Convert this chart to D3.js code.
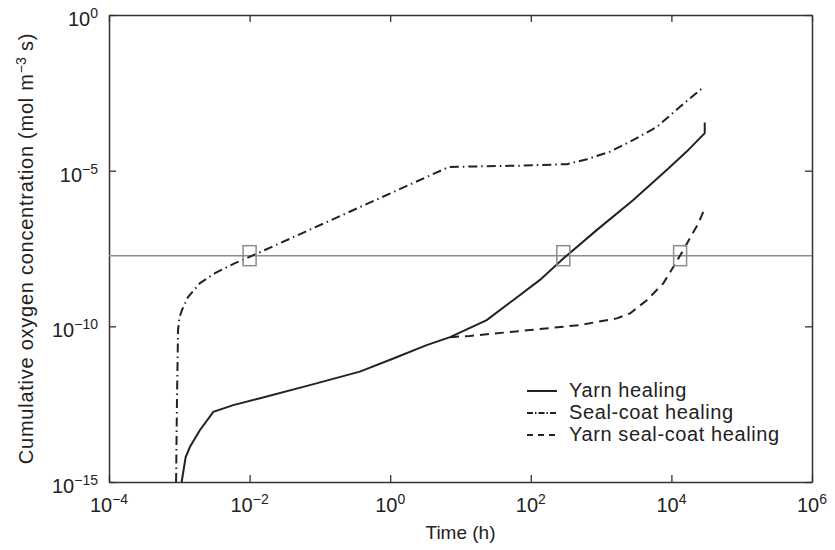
<!DOCTYPE html>
<html>
<head>
<meta charset="utf-8">
<script src="https://cdn.jsdelivr.net/npm/d3@7"></script>
<style>
  html, body { margin: 0; padding: 0; background: #fff; overflow: hidden; }
  #chart { display: block; }
  svg text { font-family: "Liberation Sans", Arial, Helvetica, sans-serif; fill: #222; }
</style>
</head>
<body>
<svg id="chart" width="835" height="550"></svg>
<script>
// tick exponents
const xTickExp = [-4, -2, 0, 2, 4, 6];
const yTickExp = [-15, -10, -5, 0];

// Yarn healing (solid)
const yarnTime = [1.08e-3, 1.23e-3, 1.42e-3, 1.97e-3, 3.05e-3, 5.86e-3, 1.41e-2, 7.2e-2, 0.37, 1.11, 3.3, 7.1, 23.6, 56, 135, 290, 865, 2870, 8570, 16500, 29800, 29800];
const yarnConc = [1e-15, 6.2e-15, 1.35e-14, 4.7e-14, 1.8e-13, 2.95e-13, 4.9e-13, 1.29e-12, 3.5e-12, 9.3e-12, 2.5e-11, 4.5e-11, 1.58e-10, 6.9e-10, 3.1e-9, 1.5e-8, 1.23e-7, 1.15e-6, 1.05e-5, 4.1e-5, 1.6e-4, 3.5e-4];

// Seal-coat healing (dash-dot)
const sealTime = [9.0e-4, 9.27e-4, 9.6e-4, 1.0e-3, 1.09e-3, 1.33e-3, 1.97e-3, 3.22e-3, 6.2e-3, 1.0e-2, 6.85, 70, 327, 631, 1340, 2840, 6240, 13240, 29100];
const sealConc = [1e-15, 4.3e-13, 7.6e-11, 1.86e-10, 3.3e-10, 8.7e-10, 2.45e-9, 5.1e-9, 1.07e-8, 1.7e-8, 1.32e-5, 1.45e-5, 1.62e-5, 2.34e-5, 4.07e-5, 9.5e-5, 2.57e-4, 1.12e-3, 5.0e-3];

// Yarn seal-coat healing (dashed)
const yarnSealTime = [7.1, 13.6, 97.5, 500, 1670, 2580, 4460, 7670, 10640, 14760, 18400, 24200, 29800];
const yarnSealConc = [4.5e-11, 4.9e-11, 7.6e-11, 1.1e-10, 1.8e-10, 2.6e-10, 6.9e-10, 2.4e-9, 8.1e-9, 2.8e-8, 6.9e-8, 2.0e-7, 6.3e-7];

// threshold line and crossing markers
const threshold = 1.86e-8;
const markTimes = [1e-2, 290, 13300];

const legendLabels = ["Yarn healing", "Seal-coat healing", "Yarn seal-coat healing"];
const dashes = [null, "9,4,1.5,4", "9,6"];
const legendDashes = [null, "6,2,1.5,2", "6,5"];

const svg = d3.select("#chart");
const margin = { top: 15, right: 23, bottom: 68, left: 109 };
const width = 835, height = 550;
const innerWidth = width - margin.left - margin.right;
const innerHeight = height - margin.top - margin.bottom;

const x = d3.scaleLog().domain([1e-4, 1e6]).range([margin.left, margin.left + innerWidth]);
const y = d3.scaleLog().domain([1e-15, 1]).range([margin.top + innerHeight, margin.top]);

const xTicks = xTickExp.map(e => Math.pow(10, e));
const yTicks = yTickExp.map(e => Math.pow(10, e));

// axes on all four sides, ticks pointing inward
const axisColor = "#333";
function styleAxis(g) {
  g.selectAll("path").attr("stroke", axisColor).attr("stroke-width", 1.5);
  g.selectAll("line").attr("stroke", axisColor).attr("stroke-width", 1.3);
  g.selectAll("text").remove();
}
svg.append("g").attr("transform", `translate(0,${margin.top + innerHeight})`)
  .call(d3.axisBottom(x).tickValues(xTicks).tickSize(-7).tickSizeOuter(0))
  .call(styleAxis);
svg.append("g").attr("transform", `translate(0,${margin.top})`)
  .call(d3.axisTop(x).tickValues(xTicks).tickSize(-7).tickSizeOuter(0))
  .call(styleAxis);
svg.append("g").attr("transform", `translate(${margin.left},0)`)
  .call(d3.axisLeft(y).tickValues(yTicks).tickSize(-7).tickSizeOuter(0))
  .call(styleAxis);
svg.append("g").attr("transform", `translate(${margin.left + innerWidth},0)`)
  .call(d3.axisRight(y).tickValues(yTicks).tickSize(-7).tickSizeOuter(0))
  .call(styleAxis);

// tick labels 10^n as two plain text pieces
const expText = e => (e < 0 ? "\u2212" + (-e) : String(e));
function powLabel(px, py, e, anchor) {
  const base = svg.append("text").attr("y", py).style("font-size", "20px").text("10");
  const sup = svg.append("text").attr("y", py - 8).style("font-size", "14px").text(expText(e));
  const wb = base.node().getComputedTextLength();
  const ws = sup.node().getComputedTextLength();
  const x0 = anchor === "middle" ? px - (wb + ws) / 2 : px - (wb + ws);
  base.attr("x", x0);
  sup.attr("x", x0 + wb);
}
xTickExp.forEach(e => powLabel(x(Math.pow(10, e)), 512, e, "middle"));
yTickExp.forEach(e => powLabel(98, y(Math.pow(10, e)) + 11, e, "end"));

// axis titles
svg.append("text").attr("x", margin.left + innerWidth / 2).attr("y", 539)
  .attr("text-anchor", "middle").style("font-size", "19px").text("Time (h)");

const yTitle = svg.append("g")
  .attr("transform", `translate(33,${margin.top + innerHeight / 2}) rotate(-90)`);
const t1 = yTitle.append("text").style("font-size", "20px").style("letter-spacing", "0.75px")
  .text("Cumulative oxygen concentration (mol m");
const t2 = yTitle.append("text").attr("y", -7).style("font-size", "14px").text("\u22123");
const t3 = yTitle.append("text").style("font-size", "20px").style("letter-spacing", "0.75px").text("\u00a0s)");
const w1 = t1.node().getComputedTextLength();
const w2 = t2.node().getComputedTextLength();
const w3 = t3.node().getComputedTextLength();
const start = -(w1 + w2 + w3) / 2;
t1.attr("x", start);
t2.attr("x", start + w1);
t3.attr("x", start + w1 + w2);

// threshold line
svg.append("line")
  .attr("x1", x(1e-4)).attr("x2", x(1e6))
  .attr("y1", y(threshold)).attr("y2", y(threshold))
  .attr("stroke", "#8c8c8c").attr("stroke-width", 1.5);

// curves
const line = d3.line().x(d => x(d[0])).y(d => y(d[1]));
const series = [
  d3.zip(yarnTime, yarnConc),
  d3.zip(sealTime, sealConc),
  d3.zip(yarnSealTime, yarnSealConc)
];
series.forEach((s, i) => {
  svg.append("path").datum(s)
    .attr("fill", "none").attr("stroke", "#222").attr("stroke-width", 2)
    .attr("stroke-dasharray", dashes[i])
    .attr("d", line);
});

// crossing markers
svg.selectAll(".mark").data(markTimes).enter().append("rect")
  .attr("class", "mark")
  .attr("x", d => x(d) - 6.5).attr("y", y(threshold) - 10)
  .attr("width", 13).attr("height", 20)
  .attr("fill", "none").attr("stroke", "#8c8c8c").attr("stroke-width", 1.5);

// legend
const legend = svg.append("g").attr("transform", "translate(527,397)");
legendLabels.forEach((lab, i) => {
  const g = legend.append("g").attr("transform", `translate(0,${i * 22})`);
  g.append("line").attr("x1", 0).attr("x2", 30).attr("y1", -6).attr("y2", -6)
    .attr("stroke", "#222").attr("stroke-width", 2)
    .attr("stroke-dasharray", legendDashes[i]);
  g.append("text").attr("x", 42).attr("y", 0).style("font-size", "20px")
    .style("letter-spacing", "0.6px").text(lab);
});
</script>
</body>
</html>
